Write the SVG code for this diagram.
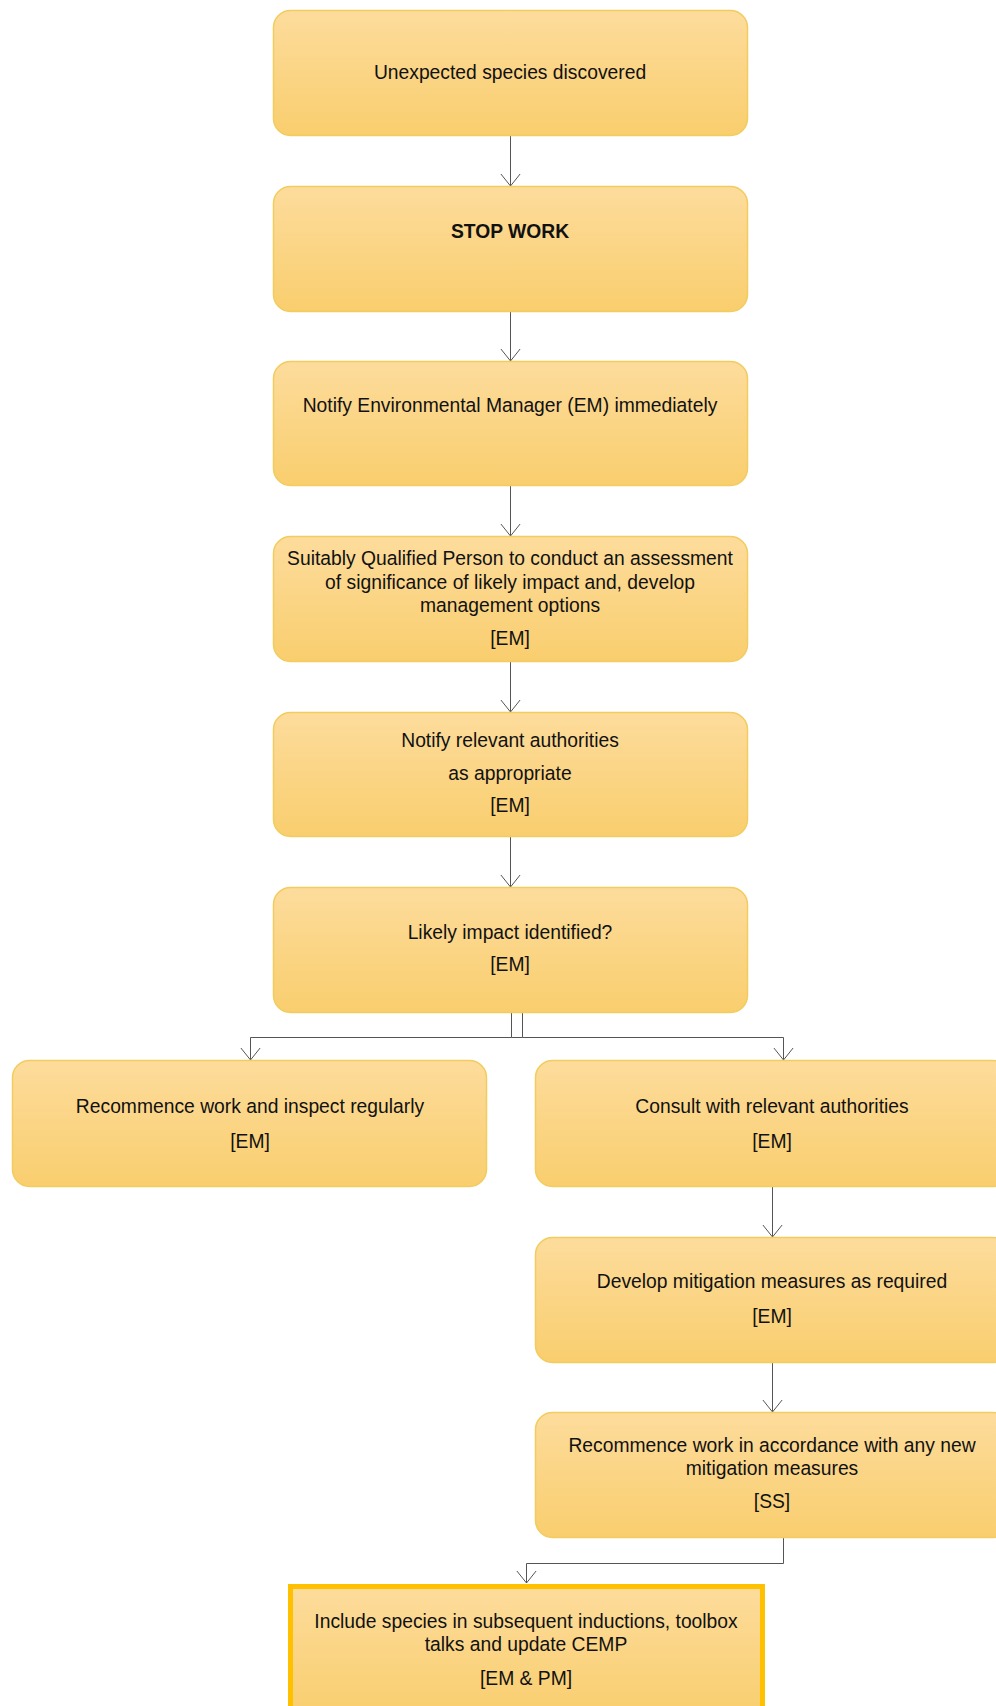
<svg xmlns="http://www.w3.org/2000/svg" width="996" height="1706" viewBox="0 0 996 1706">
<defs>
<linearGradient id="g" x1="0" y1="0" x2="0" y2="1">
<stop offset="0" stop-color="#FDDC9C"/>
<stop offset="1" stop-color="#F9CE6E"/>
</linearGradient>
<marker id="arr" viewBox="0 0 13 22" refX="12.5" refY="11" markerWidth="13" markerHeight="22" markerUnits="userSpaceOnUse" orient="auto">
<path d="M0,1 L12.5,11 L0,21" fill="none" stroke="#555" stroke-width="1"/>
</marker>
</defs>
<style>
.box{fill:url(#g);stroke:#F2CC5E;stroke-width:1.5}
.fin{fill:url(#g);stroke:#FFC000;stroke-width:5}
.t{font-family:"Liberation Sans",Arial,sans-serif;font-size:19.3px;fill:#111;text-anchor:middle}
.b{font-weight:bold}
.c{fill:none;stroke:#555;stroke-width:1}
</style>
<rect width="996" height="1706" fill="#fff"/>
<g id="connectors">
<path class="c" d="M510.5,136 V186" marker-end="url(#arr)"/>
<path class="c" d="M510.5,311 V361" marker-end="url(#arr)"/>
<path class="c" d="M510.5,485 V536" marker-end="url(#arr)"/>
<path class="c" d="M510.5,661 V712" marker-end="url(#arr)"/>
<path class="c" d="M510.5,836 V887" marker-end="url(#arr)"/>
<path class="c" d="M522.5,1037.5 H511.5 M511.5,1012 V1037.5 H250.5 V1060" marker-end="url(#arr)"/>
<path class="c" d="M522.5,1012 V1037.5 H783.5 V1060" marker-end="url(#arr)"/>
<path class="c" d="M772.5,1187 V1237" marker-end="url(#arr)"/>
<path class="c" d="M772.5,1362 V1412" marker-end="url(#arr)"/>
<path class="c" d="M783.5,1537 V1563.5 H526.5 V1583" marker-end="url(#arr)"/>
</g>
<g id="n1">
<rect class="box" x="273.5" y="10.5" width="474" height="125" rx="17"/>
<text class="t" x="510" y="79">Unexpected species discovered</text>
</g>
<g id="n2">
<rect class="box" x="273.5" y="186.5" width="474" height="125" rx="17"/>
<text class="t b" x="510" y="238">STOP WORK</text>
</g>
<g id="n3">
<rect class="box" x="273.5" y="361.5" width="474" height="124" rx="17"/>
<text class="t" x="510" y="412">Notify Environmental Manager (EM) immediately</text>
</g>
<g id="n4">
<rect class="box" x="273.5" y="536.5" width="474" height="125" rx="17"/>
<text class="t" x="510" y="565">Suitably Qualified Person to conduct an assessment</text>
<text class="t" x="510" y="589">of significance of likely impact and, develop</text>
<text class="t" x="510" y="612">management options</text>
<text class="t" x="510" y="645">[EM]</text>
</g>
<g id="n5">
<rect class="box" x="273.5" y="712.5" width="474" height="124" rx="17"/>
<text class="t" x="510" y="747">Notify relevant authorities</text>
<text class="t" x="510" y="780">as appropriate</text>
<text class="t" x="510" y="812">[EM]</text>
</g>
<g id="n6">
<rect class="box" x="273.5" y="887.5" width="474" height="125" rx="17"/>
<text class="t" x="510" y="939">Likely impact identified?</text>
<text class="t" x="510" y="971">[EM]</text>
</g>
<g id="n7">
<rect class="box" x="12.5" y="1060.5" width="474" height="126" rx="17"/>
<text class="t" x="250" y="1113">Recommence work and inspect regularly</text>
<text class="t" x="250" y="1148">[EM]</text>
</g>
<g id="n8">
<rect class="box" x="535.5" y="1060.5" width="474" height="126" rx="17"/>
<text class="t" x="772" y="1113">Consult with relevant authorities</text>
<text class="t" x="772" y="1148">[EM]</text>
</g>
<g id="n9">
<rect class="box" x="535.5" y="1237.5" width="474" height="125" rx="17"/>
<text class="t" x="772" y="1288">Develop mitigation measures as required</text>
<text class="t" x="772" y="1323">[EM]</text>
</g>
<g id="n10">
<rect class="box" x="535.5" y="1412.5" width="474" height="125" rx="17"/>
<text class="t" x="772" y="1452">Recommence work in accordance with any new</text>
<text class="t" x="772" y="1475">mitigation measures</text>
<text class="t" x="772" y="1508">[SS]</text>
</g>
<g id="n11">
<rect class="fin" x="290.5" y="1586.5" width="472" height="130"/>
<text class="t" x="526" y="1628">Include species in subsequent inductions, toolbox</text>
<text class="t" x="526" y="1651">talks and update CEMP</text>
<text class="t" x="526" y="1685">[EM &amp; PM]</text>
</g>
</svg>
